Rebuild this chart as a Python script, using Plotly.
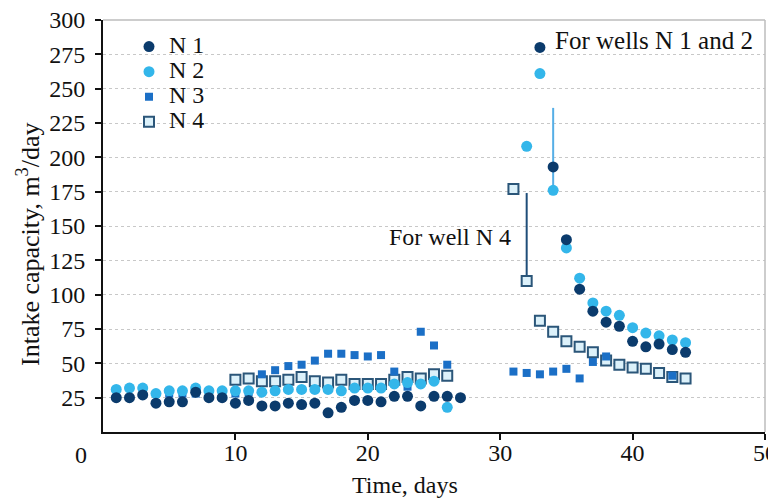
import plotly.graph_objects as go

# ---- data ----
n1_days = list(range(1, 28)) + list(range(33, 45))
n1_vals = [25, 25, 27, 21, 22, 22, 29, 25, 25, 21, 23, 19, 19, 21, 20, 21, 14, 18, 23, 23, 22, 26, 26, 19, 26, 26, 25,
           280, 193, 140, 104, 88, 80, 77, 66, 62, 64, 60, 58]

n2_days = list(range(1, 27)) + list(range(32, 45))
n2_vals = [31, 32, 32, 28, 30, 30, 32, 30, 30, 30, 30, 29, 30, 31, 31, 31, 31, 30, 32, 32, 32, 35, 36, 35, 37, 18,
           208, 261, 176, 134, 112, 94, 88, 85, 76, 72, 70, 67, 65]

n3_days = [5, 6, 7, 10, 11, 12, 13, 14, 15, 16, 17, 18, 19, 20, 21, 22, 23, 24, 25, 26,
           31, 32, 33, 34, 35, 36, 37, 38, 43]
n3_vals = [28, 28, 28, 28, 29, 42, 45, 48, 49, 52, 57, 57, 56, 55, 56, 44, 33, 73, 63, 49,
           44, 43, 42, 44, 46, 39, 51, 55, 41]

n4_days = list(range(10, 27)) + list(range(31, 45))
n4_vals = [38, 39, 37, 37, 38, 40, 37, 36, 38, 35, 35, 35, 38, 40, 39, 42, 41,
           177, 110, 81, 73, 66, 62, 58, 52, 49, 47, 46, 43, 40, 39]

n4_bracket_x = [32, 32]
n4_bracket_y = [174, 113]
n12_bracket_x = [34, 34]
n12_bracket_y = [236, 176]

y_ticks = [25, 50, 75, 100, 125, 150, 175, 200, 225, 250, 275, 300]
x_ticks = [10, 20, 30, 40, 50]

SERIF = "Liberation Serif, Times New Roman, serif"
BIG = 24


def big(s):
    return '<span style="font-size:%dpx">%s</span>' % (BIG, s)


fig = go.Figure()

fig.add_trace(go.Scatter(x=n4_bracket_x, y=n4_bracket_y, mode="lines",
                         line=dict(color="#1f4e79", width=2), showlegend=False, hoverinfo="skip"))
fig.add_trace(go.Scatter(x=n12_bracket_x, y=n12_bracket_y, mode="lines",
                         line=dict(color="#55aee6", width=2), showlegend=False, hoverinfo="skip"))

fig.add_trace(go.Scatter(x=n4_days, y=n4_vals, mode="markers", name=big("N 4"),
                         marker=dict(symbol="square", size=10, color="#dcf1fa",
                                     line=dict(color="#2b5679", width=2))))
fig.add_trace(go.Scatter(x=n3_days, y=n3_vals, mode="markers", name=big("N 3"),
                         marker=dict(symbol="square", size=8, color="#1b6fc6")))
fig.add_trace(go.Scatter(x=n2_days, y=n2_vals, mode="markers", name=big("N 2"),
                         marker=dict(symbol="circle", size=11, color="#33b6ea")))
fig.add_trace(go.Scatter(x=n1_days, y=n1_vals, mode="markers", name=big("N 1"),
                         marker=dict(symbol="circle", size=11, color="#0b3b6c")))

# page body has an 8px margin: figure occupies screen (8..776, 8..498)
OFF = 8
W, H = 776 - OFF, 498 - OFF
L, R, T, B = 103 - OFF, 11, 20 - OFF, 66
pw, ph = W - L - R, H - T - B


def px2paper(sx, sy):
    """screen pixel -> paper coords"""
    fx, fy = sx - OFF, sy - OFF
    return (fx - L) / pw, 1 - (fy - T) / ph


lx, ly = px2paper(129, 29)

fig.update_layout(
    width=W, height=H,
    margin=dict(l=L, r=R, t=T, b=B, autoexpand=False),
    paper_bgcolor="white", plot_bgcolor="white",
    font=dict(family=SERIF, size=BIG, color="#111"),
    legend=dict(x=lx, y=ly, xanchor="left", yanchor="top",
                traceorder="reversed", bgcolor="rgba(0,0,0,0)",
                font=dict(family=SERIF, size=17, color="#111"),
                itemwidth=30, tracegroupgap=0),
    xaxis=dict(range=[0, 50], tickvals=x_ticks, ticks="outside", ticklen=6, tickwidth=1.5,
               tickcolor="#111", showline=True, linecolor="#111", linewidth=2,
               showgrid=False, zeroline=False, ticklabelstandoff=-8, automargin=False,
               ticklabeloverflow="allow",
               tickfont=dict(family=SERIF, size=BIG)),
    yaxis=dict(range=[0, 300], tickvals=y_ticks, ticks="outside", ticklen=6, tickwidth=1.5,
               tickcolor="#111", showline=True, linecolor="#111", linewidth=2,
               showgrid=True, gridcolor="#c8c8c8", griddash="dot", gridwidth=1,
               zeroline=False, ticklabelstandoff=5, automargin=False,
               ticklabeloverflow="allow",
               tickfont=dict(family=SERIF, size=BIG)),
    shapes=[
        dict(type="line", xref="paper", yref="paper", x0=0, x1=1, y0=1, y1=1,
             line=dict(color="#bdbdbd", width=1.5)),
        dict(type="line", xref="paper", yref="paper", x0=1, x1=1, y0=0, y1=1,
             line=dict(color="#bdbdbd", width=1.5)),
    ],
)

ann = []
ann.append(dict(text="For wells N 1 and 2", x=34.0, y=285, xref="x", yref="y",
                xanchor="left", yanchor="middle", showarrow=False,
                font=dict(family=SERIF, size=25, color="#111")))
ann.append(dict(text="For well N 4", x=31.0, y=142, xref="x", yref="y",
                xanchor="right", yanchor="middle", showarrow=False,
                font=dict(family=SERIF, size=BIG, color="#111")))
for txt, sx, sy, ang, fs in [("0", 81, 455, 0, BIG),
                             ("Time, days", 405, 485, 0, BIG),
                             ("Intake capacity, m<sup>3</sup>/day", 28, 245, -90, 26)]:
    x, y = px2paper(sx, sy)
    ann.append(dict(text=txt, x=x, y=y, xref="paper", yref="paper", textangle=ang,
                    xanchor="center", yanchor="middle", showarrow=False,
                    font=dict(family=SERIF, size=fs, color="#111")))
fig.update_layout(annotations=ann)

fig.write_html("out.html")
